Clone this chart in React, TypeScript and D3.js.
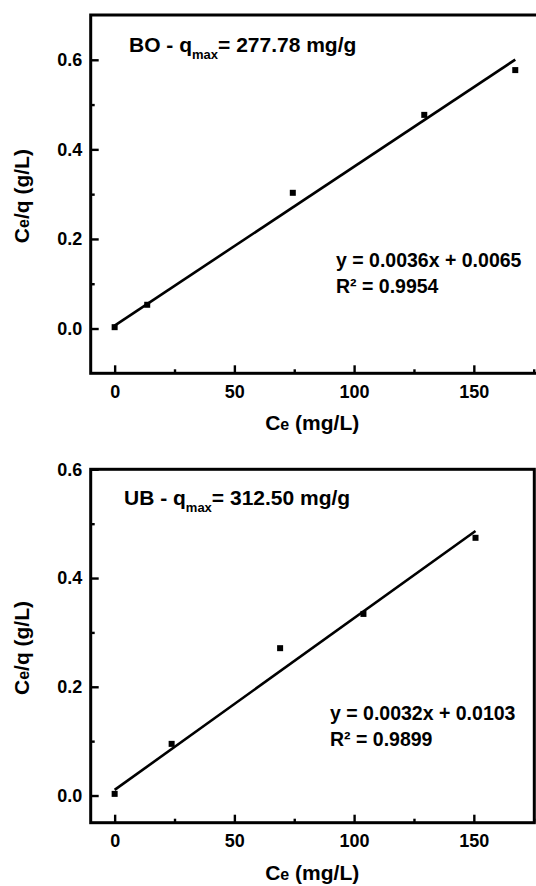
import React, { useEffect, useRef } from "react";
import * as d3 from "d3";

// BO panel
const boCe = [0, 13.6, 74.4, 129.3, 167.3];
const boCeq = [0.003, 0.053, 0.303, 0.477, 0.577];
const boFit = { slope: 0.00355, intercept: 0.0065 };
// UB panel
const ubCe = [0, 23.8, 69.1, 103.9, 150.7];
const ubCeq = [0.003, 0.095, 0.271, 0.334, 0.474];
const ubFit = { slope: 0.00316, intercept: 0.0103 };

const xMajor = [0, 50, 100, 150];
const xMinor = [25, 75, 125, 175];
const yMajorBO = [0, 0.2, 0.4, 0.6];
const yMajorUB = [0, 0.2, 0.4, 0.6];
const yMinor = [0.1, 0.3, 0.5];

const FONT = "'Liberation Sans', Arial, sans-serif";

function drawPanel(g, cfg) {
  const x = d3.scaleLinear().domain([-10, 175]).range([90.7, 533.7]);
  const y = d3.scaleLinear().domain(cfg.yDomain).range([cfg.bottom, cfg.top]);

  const styleAxis = (sel) => {
    sel.select(".domain").remove();
    sel.selectAll("line").attr("stroke", "#000").attr("stroke-width", 2.4);
    sel.selectAll("text")
      .attr("fill", "#000")
      .attr("font-size", 18)
      .attr("font-weight", "bold")
      .attr("font-family", FONT);
  };

  g.append("g")
    .attr("transform", `translate(0,${cfg.bottom})`)
    .call(d3.axisBottom(x).tickValues(xMajor).tickSize(-8).tickPadding(11.5).tickFormat(d3.format("d")))
    .call(styleAxis);
  g.append("g")
    .attr("transform", `translate(0,${cfg.bottom})`)
    .call(d3.axisBottom(x).tickValues(xMinor).tickSize(-4).tickFormat(() => ""))
    .call(styleAxis);
  g.append("g")
    .attr("transform", `translate(${x(-10)},0)`)
    .call(d3.axisLeft(y).tickValues(cfg.yMajor).tickSize(-8).tickPadding(8.5).tickFormat(d3.format(".1f")))
    .call(styleAxis);
  g.append("g")
    .attr("transform", `translate(${x(-10)},0)`)
    .call(d3.axisLeft(y).tickValues(yMinor).tickSize(-4).tickFormat(() => ""))
    .call(styleAxis);

  g.append("rect")
    .attr("x", x(-10))
    .attr("y", cfg.top)
    .attr("width", cfg.right - x(-10))
    .attr("height", cfg.bottom - cfg.top)
    .attr("fill", "none")
    .attr("stroke", "#000")
    .attr("stroke-width", 3);

  const xmax = d3.max(cfg.xs);
  const line = d3.line().x((d) => x(d[0])).y((d) => y(d[1]));
  g.append("path")
    .attr("d", line([0, xmax].map((v) => [v, cfg.fit.slope * v + cfg.fit.intercept])))
    .attr("fill", "none")
    .attr("stroke", "#000")
    .attr("stroke-width", 2.6);

  g.selectAll(".pt")
    .data(cfg.xs.map((v, i) => [v, cfg.ys[i]]))
    .join("rect")
    .attr("x", (d) => x(d[0]) - 3)
    .attr("y", (d) => y(d[1]) - 3)
    .attr("width", 6)
    .attr("height", 6)
    .attr("fill", "#000");

  const t = g.append("text")
    .attr("x", cfg.titleX)
    .attr("y", cfg.titleY)
    .attr("font-size", 21)
    .attr("font-weight", "bold")
    .attr("font-family", FONT);
  t.append("tspan").text(`${cfg.name} - q`);
  t.append("tspan").attr("font-size", 13).attr("dy", 7).text("max");
  t.append("tspan").attr("dy", -7).text(`= ${cfg.qmax} mg/g`);

  g.append("text")
    .attr("x", cfg.eqX)
    .attr("y", cfg.eqY)
    .attr("font-size", 19.5)
    .attr("font-weight", "bold")
    .attr("font-family", FONT)
    .text(cfg.eq);
  g.append("text")
    .attr("x", cfg.eqX)
    .attr("y", cfg.eqY + 25.5)
    .attr("font-size", 19.5)
    .attr("font-weight", "bold")
    .attr("font-family", FONT)
    .text(`R² = ${cfg.r2}`);

  const xt = g.append("text")
    .attr("x", (x(-10) + 533.7) / 2)
    .attr("y", cfg.bottom + 57)
    .attr("text-anchor", "middle")
    .attr("font-size", 21)
    .attr("font-weight", "bold")
    .attr("font-family", FONT);
  xt.append("tspan").text("C");
  xt.append("tspan").attr("font-size", 16).text("e");
  xt.append("tspan").text(" (mg/L)");

  const yt = g.append("text")
    .attr("transform", `translate(28.5,${(cfg.top + cfg.bottom) / 2 + 2}) rotate(-90)`)
    .attr("text-anchor", "middle")
    .attr("font-size", 21)
    .attr("font-weight", "bold")
    .attr("font-family", FONT);
  yt.append("tspan").text("C");
  yt.append("tspan").attr("font-size", 16).text("e");
  yt.append("tspan").text("/q (g/L)");
}

export default function App() {
  const ref = useRef(null);

  useEffect(() => {
    const svg = d3.select(ref.current);
    svg.selectAll("*").remove();
    drawPanel(svg.append("g"), {
      xs: boCe, ys: boCeq, fit: boFit,
      yDomain: [-0.1, 0.7], yMajor: yMajorBO,
      top: 15, bottom: 373.3, right: 548,
      name: "BO", qmax: "277.78", titleX: 129, titleY: 52,
      eq: "y = 0.0036x + 0.0065", r2: "0.9954", eqX: 336, eqY: 267,
    });
    drawPanel(svg.append("g"), {
      xs: ubCe, ys: ubCeq, fit: ubFit,
      yDomain: [-0.05, 0.6], yMajor: yMajorUB,
      top: 469.3, bottom: 822.7, right: 534.3,
      name: "UB", qmax: "312.50", titleX: 124, titleY: 505,
      eq: "y = 0.0032x + 0.0103", r2: "0.9899", eqX: 330, eqY: 720,
    });
  });

  return (
    <svg
      ref={ref}
      width={536}
      height={886}
      style={{ position: "absolute", left: 0, top: 0, background: "#fff" }}
    />
  );
}
